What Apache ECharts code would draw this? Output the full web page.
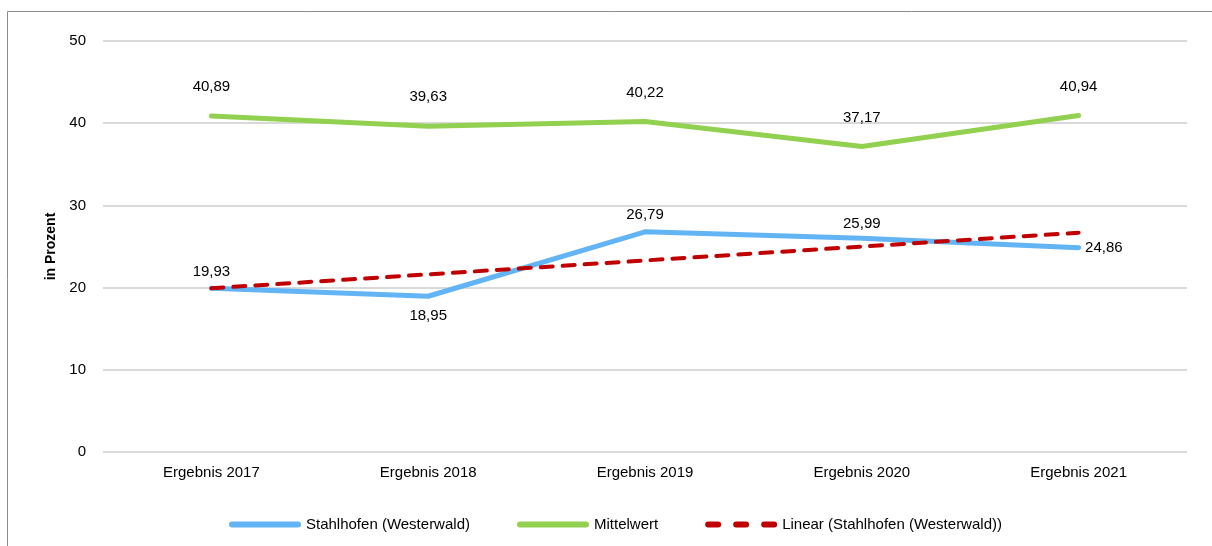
<!DOCTYPE html>
<html><head><meta charset="utf-8">
<script src="https://cdn.jsdelivr.net/npm/echarts@6/dist/echarts.min.js"></script>
<style>html,body{margin:0;padding:0;background:#fff}#c{width:1212px;height:546px}</style>
</head><body><div id="c"></div>
<script>
const categories = ['Ergebnis 2017','Ergebnis 2018','Ergebnis 2019','Ergebnis 2020','Ergebnis 2021'];
const stahlhofen = [19.93, 18.95, 26.79, 25.99, 24.86];
const mittelwert = [40.89, 39.63, 40.22, 37.17, 40.94];
const trend = [19.92, 21.61, 23.30, 24.99, 26.68];
const seriesNames = ['Stahlhofen (Westerwald)', 'Mittelwert', 'Linear (Stahlhofen (Westerwald))'];
const yTicks = [0, 10, 20, 30, 40, 50];

const FONT = '"Liberation Sans", Arial, sans-serif';
const fmt = p => p.value.toFixed(2).replace('.', ',');
const blueLabelPos = [['top',8],['bottom',12],['top',9],['top',7],['right',6]];

const solidIcon = 'path://M3,0 H69 A3,3 0 0 1 69,6 H3 A3,3 0 0 1 3,0 Z';
const dashIcon = 'path://M2,0 H12 A3,3 0 0 1 12,6 H2 A3,3 0 0 1 2,0 Z M30,0 H40 A3,3 0 0 1 40,6 H30 A3,3 0 0 1 30,0 Z M58,0 H68 A3,3 0 0 1 68,6 H58 A3,3 0 0 1 58,0 Z';

const chart = echarts.init(document.getElementById('c'), null, {renderer:'canvas'});
chart.setOption({
  animation: false,
  textStyle: {fontFamily: FONT},
  graphic: [{type:'rect', shape:{x:7.5, y:11.5, width:1220, height:560}, style:{fill:'none', stroke:'#8c8c8c', lineWidth:1}, silent:true}],
  grid: {left:103, right:25, top:41, bottom:94},
  legend: {
    left: 224, top: 512, itemWidth: 72, itemHeight: 6, itemGap: 47,
    textStyle: {fontFamily: FONT, fontSize: 15, color:'#000', padding:[0,0,0,0]},
    data: [
      {name: seriesNames[0], icon: solidIcon},
      {name: seriesNames[1], icon: solidIcon},
      {name: seriesNames[2], icon: dashIcon}
    ]
  },
  xAxis: {
    type:'category', data: categories, boundaryGap: true,
    axisLine:{show:false}, axisTick:{show:false},
    axisLabel:{fontFamily:FONT, fontSize:15, color:'#000', margin:13}
  },
  yAxis: {
    type:'value', min: yTicks[0], max: yTicks[yTicks.length-1], interval: 10,
    name: 'in Prozent', nameLocation:'middle', nameGap: 44,
    nameTextStyle:{fontFamily:FONT, fontSize:14, fontWeight:'bold', color:'#000'},
    axisLine:{show:false}, axisTick:{show:false},
    axisLabel:{fontFamily:FONT, fontSize:15, color:'#000', margin:17},
    splitLine:{lineStyle:{color:'#d9d9d9', width:2}}
  },
  series: [
    {
      name: seriesNames[0], type:'line', symbol:'circle', symbolSize:1, showSymbol:true, z:3,
      lineStyle:{color:'#63b4f4', width:5, cap:'round', join:'round'},
      itemStyle:{color:'#63b4f4'},
      data: stahlhofen.map((v,i)=>({value:v, label:{show:true, position:blueLabelPos[i][0], distance:blueLabelPos[i][1]}})),
      label:{formatter: fmt, fontFamily:FONT, fontSize:15, color:'#000'}
    },
    {
      name: seriesNames[1], type:'line', symbol:'circle', symbolSize:1, showSymbol:true, z:3,
      lineStyle:{color:'#92d050', width:5, cap:'round', join:'round'},
      itemStyle:{color:'#92d050'},
      data: mittelwert,
      label:{show:true, position:'top', distance:21, formatter: fmt, fontFamily:FONT, fontSize:15, color:'#000'}
    },
    {
      name: seriesNames[2], type:'line', symbol:'none', z:4,
      lineStyle:{color:'#c00000', width:4, type:[12,10], cap:'round'},
      itemStyle:{color:'#c00000'},
      data: trend
    }
  ]
});
</script></body></html>
